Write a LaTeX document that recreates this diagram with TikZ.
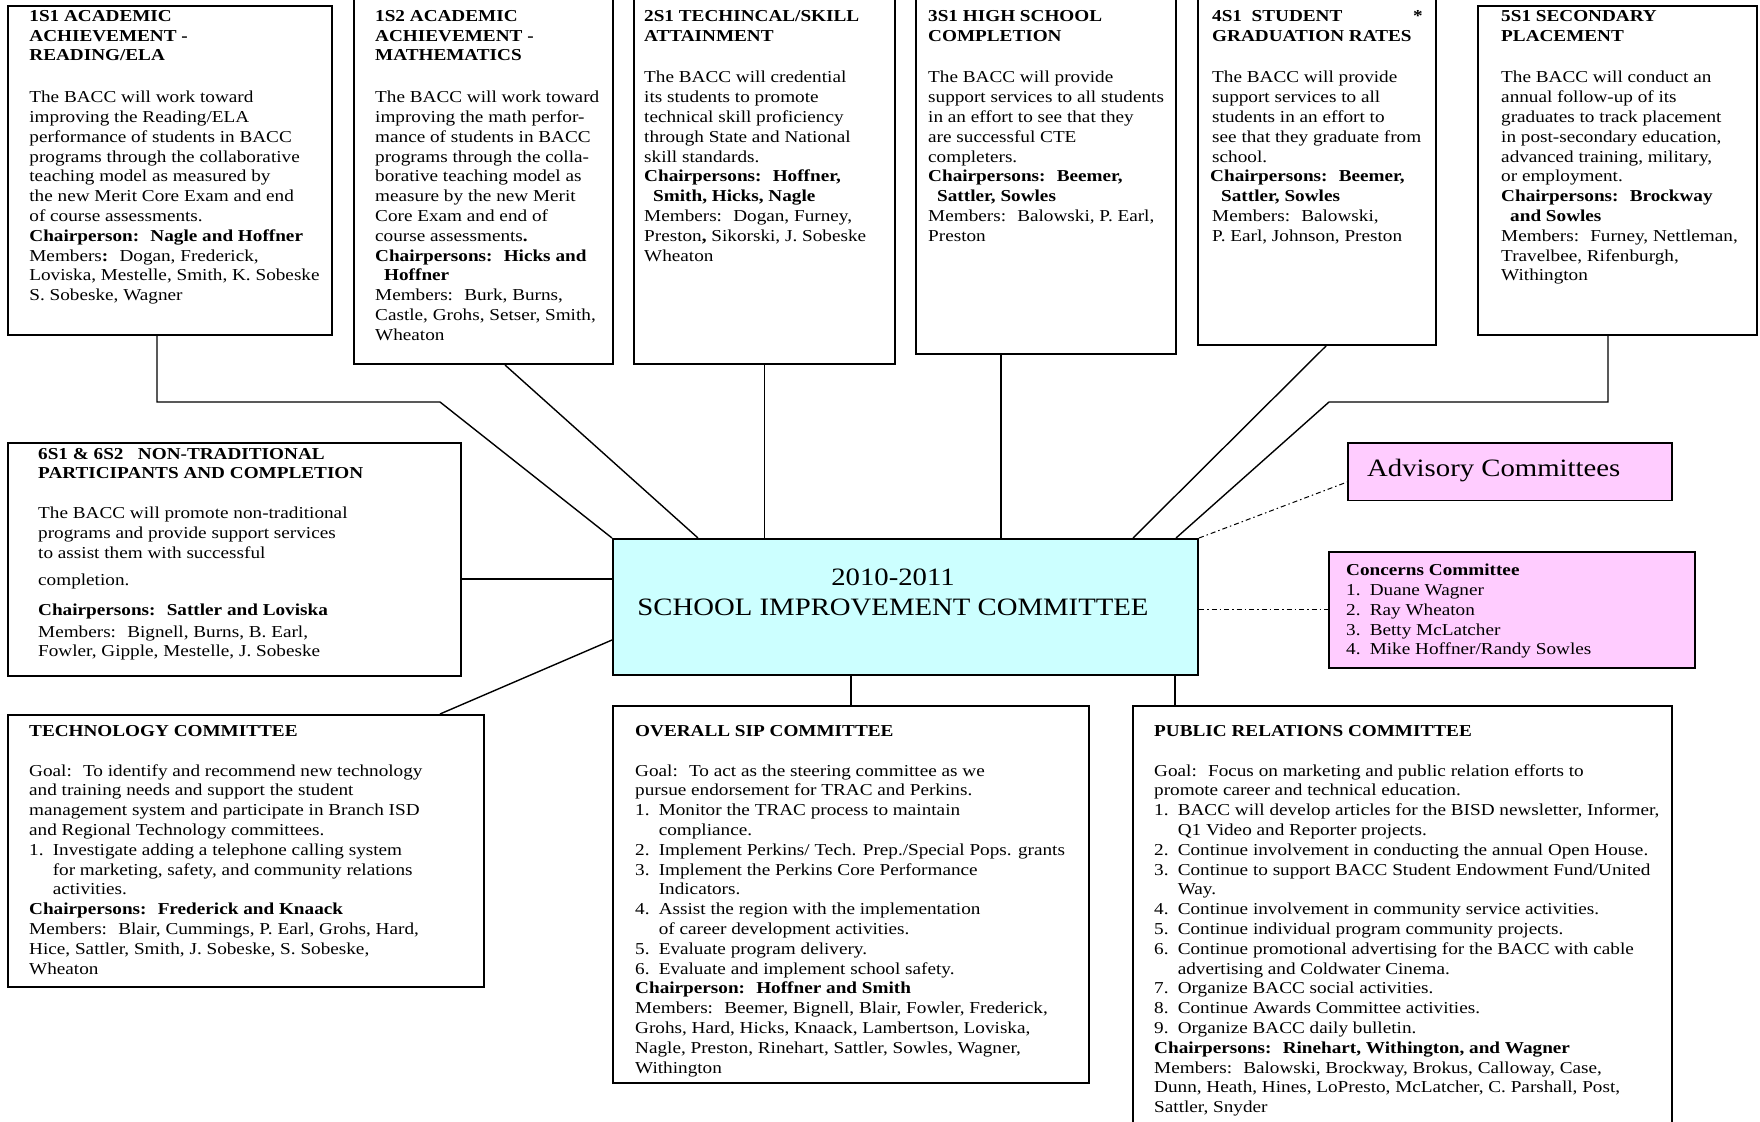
\documentclass[tikz,border=0pt]{standalone}
\usepackage{fontspec}
\setmainfont{Liberation Serif}[FakeStretch=1.15]
\usetikzlibrary{fit}
\definecolor{cyanfill}{HTML}{CCFFFF}
\definecolor{pinkfill}{HTML}{FFCCFF}
\newcommand\myitem[1]{\makebox[23.6pt][l]{#1}}
\newcommand\myind{\hspace*{23.6pt}}
\begin{document}
\begin{tikzpicture}[x=1pt,y=-1pt,
  box/.style={draw, line width=2pt, inner sep=0pt},
  txt/.style={anchor=north west, inner sep=0pt, align=left, font=\fontsize{16.7}{19.8}\selectfont},
  big/.style={inner sep=0pt, font=\fontsize{25}{30}\selectfont},
  conn/.style={line width=1.4pt},
  dd/.style={line width=1pt, dash pattern=on 5pt off 3pt on 1.5pt off 3pt}]
\useasboundingbox (0,0) rectangle (1760,1121);
\fill[white] (0,0) rectangle (1760,1121);
\clip (0,0) rectangle (1760,1121);

% boxes
\node[box, fit={(8,5.6) (332,334.5)}] (b1s1) {};
\node[box, fit={(354,-10) (613,364)}] (b1s2) {};
\node[box, fit={(634,-10) (895,364)}] (b2s1) {};
\node[box, fit={(916,-10) (1176,354)}] (b3s1) {};
\node[box, fit={(1198,-10) (1436,345)}] (b4s1) {};
\node[box, fit={(1478,5.6) (1757,334.5)}] (b5s1) {};
\node[box, fit={(8,443) (461,676)}] (b6s1) {};
\node[box, fill=cyanfill, fit={(613,539) (1198,675)}] (center) {};
\node[box, fill=pinkfill, line width=1.6pt, fit={(1348,443) (1672,500.6)}] (adv) {};
\node[box, fill=pinkfill, line width=1.6pt, fit={(1329,552) (1695,668)}] (conc) {};
\node[box, fit={(8,715) (484,987)}] (tech) {};
\node[box, fit={(613,706) (1089,1083)}] (sip) {};
\node[box, fit={(1133,706) (1672,1140)}] (pr) {};

% helper coordinates
\coordinate (k1a) at (157,402);
\coordinate (k1b) at (440,402);
\coordinate (k2) at (505,0);
\coordinate (k2e) at (698,0);
\coordinate (k4) at (1001,0);
\coordinate (k5) at (1326,0);
\coordinate (k5e) at (1133,0);
\coordinate (k6a) at (1608,402);
\coordinate (k6b) at (1329,402);
\coordinate (k6e) at (1176,0);
\coordinate (k7) at (0,579);
\coordinate (k8) at (440,0);
\coordinate (k8e) at (0,640);
\coordinate (k9) at (851,0);
\coordinate (k10) at (1175,0);
\coordinate (k11) at (0,482);
\coordinate (k12) at (0,609);

% connectors
\draw[conn] (b1s1.south -| k1a) -- (k1a) -- (k1b) -- (center.north west);
\draw[conn] (b1s2.south -| k2) -- (center.north -| k2e);
\draw[conn] (b2s1.south) -- (b2s1.south |- center.north);
\draw[conn] (b3s1.south -| k4) -- (center.north -| k4);
\draw[conn] (b4s1.south -| k5) -- (center.north -| k5e);
\draw[conn] (b5s1.south -| k6a) -- (k6a) -- (k6b) -- (center.north -| k6e);
\draw[conn] (b6s1.east |- k7) -- (center.west |- k7);
\draw[conn] (tech.north -| k8) -- (center.west |- k8e);
\draw[conn] (center.south -| k9) -- (sip.north -| k9);
\draw[conn] (center.south -| k10) -- (pr.north -| k10);
\draw[dd] (center.north east) -- (adv.west |- k11);
\draw[dd] (center.east |- k12) -- (conc.west |- k12);

% texts
\node[txt] (t1s1) at (29.2,7.3) {\strut\textbf{1S1 ACADEMIC}\\
\textbf{ACHIEVEMENT -}\\
\textbf{READING/ELA}\\[22pt]
The BACC will work toward\\
improving the Reading/ELA\\
performance of students in BACC\\
programs through the collaborative\\
teaching model as measured by\\
the new Merit Core Exam and end\\
of course assessments.\\
\textbf{Chairperson:~ Nagle and Hoffner}\\
Members\textbf{:}~ Dogan, Frederick,\\
Loviska, Mestelle, Smith, K. Sobeske\\
S. Sobeske, Wagner};

\node[txt] (t1s2) at (375,7.3) {\strut\textbf{1S2 ACADEMIC}\\
\textbf{ACHIEVEMENT -}\\
\textbf{MATHEMATICS}\\[22pt]
The BACC will work toward\\
improving the math perfor-\\
mance of students in BACC\\
programs through the colla-\\
borative teaching model as\\
measure by the new Merit\\
Core Exam and end of\\
course assessments\textbf{.}\\
\textbf{Chairpersons:~ Hicks and}\\
\hspace*{9pt}\textbf{Hoffner}\\
Members:~ Burk, Burns,\\
Castle, Grohs, Setser, Smith,\\
Wheaton};

\node[txt] (t2s1) at (644,7.3) {\strut\textbf{2S1 TECHINCAL/SKILL}\\
\textbf{ATTAINMENT}\\[22pt]
The BACC will credential\\
its students to promote\\
technical skill proficiency\\
through State and National\\
skill standards.\\
\textbf{Chairpersons:~ Hoffner,}\\
\hspace*{9pt}\textbf{Smith, Hicks, Nagle}\\
Members:~ Dogan, Furney,\\
Preston\textbf{,} Sikorski, J. Sobeske\\
Wheaton};

\node[txt] (t3s1) at (928,7.3) {\strut\textbf{3S1 HIGH SCHOOL}\\
\textbf{COMPLETION}\\[22pt]
The BACC will provide\\
support services to all students\\
in an effort to see that they\\
are successful CTE\\
completers.\\
\textbf{Chairpersons:~ Beemer,}\\
\hspace*{9pt}\textbf{Sattler, Sowles}\\
Members:~ Balowski, P. Earl,\\
Preston};

\node[txt] (t4s1) at (1212,7.3) {\strut\textbf{4S1~ STUDENT}\\
\textbf{GRADUATION RATES}\\[22pt]
The BACC will provide\\
support services to all\\
students in an effort to\\
see that they graduate from\\
school.\\
\hspace*{-2pt}\textbf{Chairpersons:~ Beemer,}\\
\hspace*{9pt}\textbf{Sattler, Sowles}\\
Members:~ Balowski,\\
P. Earl, Johnson, Preston};
\node[txt] (star4) at (1413,7.3) {\strut\textbf{*}};

\node[txt] (t5s1) at (1501,7.3) {\strut\textbf{5S1 SECONDARY}\\
\textbf{PLACEMENT}\\[22pt]
The BACC will conduct an\\
annual follow-up of its\\
graduates to track placement\\
in post-secondary education,\\
advanced training, military,\\
or employment.\\
\textbf{Chairpersons:~ Brockway}\\
\hspace*{9pt}\textbf{and Sowles}\\
Members:~ Furney, Nettleman,\\
Travelbee, Rifenburgh,\\
Withington};

\node[txt] (t6s1) at (38,445.1) {\strut\textbf{6S1 \& 6S2~~ NON-TRADITIONAL}\\
\textbf{PARTICIPANTS AND COMPLETION}\\[19.8pt]
The BACC will promote non-traditional\\
programs and provide support services\\
to assist them with successful\\[8pt]
completion.\\[10pt]
\textbf{Chairpersons:~ Sattler and Loviska}\\[1.5pt]
Members:~ Bignell, Burns, B. Earl,\\
Fowler, Gipple, Mestelle, J. Sobeske};

\node[big, anchor=north, align=center] (tcenter) at (893,564.5) {\strut 2010-2011\\ SCHOOL IMPROVEMENT COMMITTEE};

\node[big, anchor=north west] (tadv) at (1367,455.5) {\strut Advisory Committees};

\node[txt] (tconc) at (1346,561.6) {\strut\textbf{Concerns Committee}\\
\myitem{1.}Duane Wagner\\
\myitem{2.}Ray Wheaton\\
\myitem{3.}Betty McLatcher\\
\myitem{4.}Mike Hoffner/Randy Sowles};

\node[txt] (ttech) at (29,722.4) {\strut\textbf{TECHNOLOGY COMMITTEE}\\[19.8pt]
Goal:~ To identify and recommend new technology\\
and training needs and support the student\\
management system and participate in Branch ISD\\
and Regional Technology committees.\\
\myitem{1.}Investigate adding a telephone calling system\\
\myind for marketing, safety, and community relations\\
\myind activities.\\
\textbf{Chairpersons:~ Frederick and Knaack}\\
Members:~ Blair, Cummings, P. Earl, Grohs, Hard,\\
Hice, Sattler, Smith, J. Sobeske, S. Sobeske,\\
Wheaton};

\node[txt] (tsip) at (635,722.4) {\strut\textbf{OVERALL SIP COMMITTEE}\\[19.8pt]
Goal:~ To act as the steering committee as we\\
pursue endorsement for TRAC and Perkins.\\
\myitem{1.}Monitor the TRAC process to maintain\\
\myind compliance.\\
\myitem{2.}Implement Perkins/ Tech. Prep./Special Pops. grants\\
\myitem{3.}Implement the Perkins Core Performance\\
\myind Indicators.\\
\myitem{4.}Assist the region with the implementation\\
\myind of career development activities.\\
\myitem{5.}Evaluate program delivery.\\
\myitem{6.}Evaluate and implement school safety.\\
\textbf{Chairperson:~ Hoffner and Smith}\\
Members:~ Beemer, Bignell, Blair, Fowler, Frederick,\\
Grohs, Hard, Hicks, Knaack, Lambertson, Loviska,\\
Nagle, Preston, Rinehart, Sattler, Sowles, Wagner,\\
Withington};

\node[txt] (tpr) at (1154,722.4) {\strut\textbf{PUBLIC RELATIONS COMMITTEE}\\[19.8pt]
Goal:~ Focus on marketing and public relation efforts to\\
promote career and technical education.\\
\myitem{1.}BACC will develop articles for the BISD newsletter, Informer,\\
\myind Q1 Video and Reporter projects.\\
\myitem{2.}Continue involvement in conducting the annual Open House.\\
\myitem{3.}Continue to support BACC Student Endowment Fund/United\\
\myind Way.\\
\myitem{4.}Continue involvement in community service activities.\\
\myitem{5.}Continue individual program community projects.\\
\myitem{6.}Continue promotional advertising for the BACC with cable\\
\myind advertising and Coldwater Cinema.\\
\myitem{7.}Organize BACC social activities.\\
\myitem{8.}Continue Awards Committee activities.\\
\myitem{9.}Organize BACC daily bulletin.\\
\textbf{Chairpersons:~ Rinehart, Withington, and Wagner}\\
Members:~ Balowski, Brockway, Brokus, Calloway, Case,\\
Dunn, Heath, Hines, LoPresto, McLatcher, C. Parshall, Post,\\
Sattler, Snyder};
\end{tikzpicture}
\end{document}
